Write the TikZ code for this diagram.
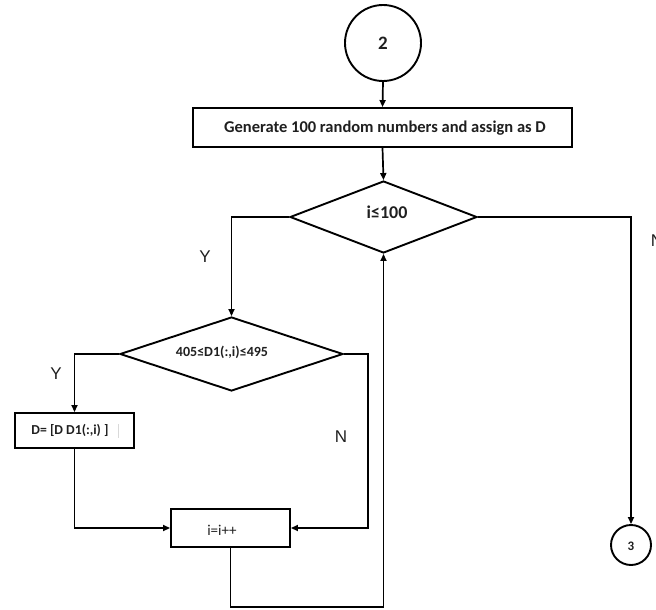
\documentclass[tikz,border=0pt]{standalone}
\usepackage{fontspec}
\setmainfont{Carlito}
\newfontfamily\arialf{Liberation Sans}
\usetikzlibrary{shapes.geometric,arrows.meta}
\begin{document}
\begin{tikzpicture}[x=1pt,y=-1pt,
  line width=1.9pt,
  conn/.style={draw,line width=1.7pt},
  arr/.style={conn,-{Triangle[length=7pt,width=6pt]}},
  boxnode/.style={draw,rectangle,inner sep=0pt},
  decnode/.style={draw,diamond,inner sep=0pt},
  conncirc/.style={draw,circle,inner sep=0pt},
  lbl/.style={inner sep=0pt,text=black!88,font=\bfseries\fontsize{16.5}{18}\selectfont},
  yn/.style={inner sep=0pt,text=black!88,font=\arialf\fontsize{17}{19}\selectfont}]
\useasboundingbox (0,0) rectangle (656,610);
% nodes
\node[conncirc,minimum size=76pt] (c2) at (383,43) {};
\node[lbl,font=\bfseries\fontsize{19}{21}\selectfont] (t2) at (383,43) {2};
\node[boxnode,minimum width=379pt,minimum height=39pt] (gen) at (382.5,127.5) {};
\node[lbl] (tgen) at (385,128) {Generate 100 random numbers and assign as D};
\node[decnode,minimum width=187pt,minimum height=72pt] (d1) at (383.5,217) {};
\node[lbl,font=\bfseries\fontsize{18}{20}\selectfont] (td1) at (387,212) {i≤100};
\node[decnode,minimum width=223pt,minimum height=74pt] (d2) at (231.5,354) {};
\node[lbl,font=\bfseries\fontsize{14}{16}\selectfont] (td2) at (222,352) {405≤D1(:,i)≤495};
\node[boxnode,minimum width=119pt,minimum height=35pt] (dbox) at (74.5,430.5) {};
\node[lbl,font=\bfseries\fontsize{13.7}{16}\selectfont] (tdbox) at (70,430) {D= [D D1(:,i) ]};
\draw[line width=0.6pt,black!15] (118,424) -- (118,438);
\node[boxnode,minimum width=119pt,minimum height=38pt] (inc) at (230.5,528) {};
\node[lbl,font=\fontsize{15}{17}\selectfont] (tinc) at (222,530) {i=i++};
\node[conncirc,minimum size=40pt] (c3) at (631,545) {};
\node[lbl,font=\bfseries\fontsize{13}{15}\selectfont] (t3) at (631,546) {3};
% labels
\node[yn] (y1) at (205,257) {Y};
\node[yn] (y2) at (56,374) {Y};
\node[yn] (n1) at (341,437) {N};
\node[yn,anchor=west] (n2) at (650,241) {N};
% connectors
\coordinate (nr) at (368,354);
\coordinate (lb) at (230.5,607);
\draw[arr] (c2.south) -- (gen.north);
\draw[arr] (gen.south) -- (d1.north);
\draw[arr] (d1.west) -| (d2.north);
\draw[arr] (d1.east) -| (c3.north);
\draw[arr] (d2.west) -| (dbox.north);
\draw[arr] (d2.east) -- (nr) |- (inc.east);
\draw[arr] (dbox.south) |- (inc.west);
\draw[arr] (inc.south) -- (lb) -| (d1.south);
\end{tikzpicture}
\end{document}
